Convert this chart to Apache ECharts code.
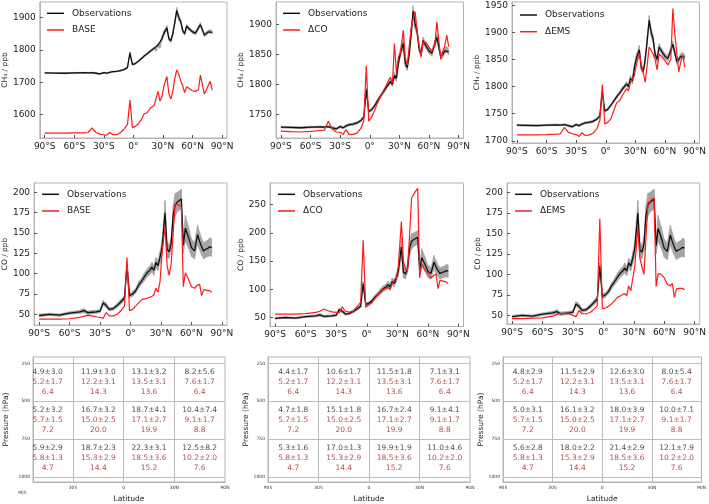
<!DOCTYPE html>
<html><head><meta charset="utf-8">
<script src="https://cdn.jsdelivr.net/npm/echarts@6/dist/echarts.min.js"></script>
<style>html,body{margin:0;padding:0;background:#fff}#c{width:709px;height:504px}</style>
</head><body><div id="c"></div>
<script>
// ---------- data ----------
const lat = [-90,-80,-70,-60,-50,-46,-42,-38,-34,-30,
  -27,-24,-21,-17,-13,-9,-6,-3.5,-1,2,
  5,8,11,14,17,19,21,23,25,27,
  29,31,34,36,38,40,42,44,46,48,
  50,52,54,57,60,63,66,68,70,72,
  74,76,78,80];
const obsCH4 = [1729,1728.5,1728,1729,1729.5,1729,1730,1728,1726,1730,
  1728,1731,1733,1734,1736,1740,1746,1791,1755,1758,
  1765,1773,1781,1788,1796,1800,1805,1800,1815,1810,
  1835,1852,1868,1835,1828,1850,1885,1922,1900,1888,
  1860,1850,1873,1864,1856,1852,1868,1878,1862,1846,
  1850,1856,1858,1854];
const obsCH4Err = [1.5,1.5,1.5,1.5,1.5,1.5,1.5,2,2,2,
  2,2,2,2,2,2,2.5,3,2.5,2.5,
  2.5,3,3,3,3.5,3.5,4,4,5,5,
  6,7,8,6,5,6,7,9,8,7,
  6,5,6,5,5,5,6,6,5,5,
  5,5,5,5];
const baseCH4 = [1543,1543,1543,1544,1544,1545,1559,1545,1540,1538,
  1537,1545,1539,1538,1545,1557,1570,1645,1560,1564,
  1572,1585,1603,1606,1620,1625,1628,1630,1672,1642,
  1656,1690,1718,1665,1648,1672,1712,1738,1725,1705,
  1690,1668,1686,1680,1674,1672,1677,1722,1722,1664,
  1676,1690,1703,1676];
const dcoCH4 = [1722.5,1721.5,1721,1722,1723.5,1724,1739,1726,1721,1720.5,
  1717,1725,1717,1717,1719,1727,1740,1831,1739,1746,
  1757,1770,1780,1790,1799,1807,1812,1802,1868,1819,
  1845,1853,1890,1845,1832,1832,1895,1910,1921,1888,
  1865,1846,1870,1870,1862,1855,1866,1904,1907,1842,
  1855,1864,1882,1863];
const demsCH4 = [1711,1711,1711,1711.5,1712.5,1713,1725,1716,1713,1711.5,
  1708,1715,1710,1710.5,1714,1722,1738,1804,1731,1734,
  1740,1755,1770,1774,1784,1790,1796,1792,1808,1806,
  1820,1840,1861,1840,1826,1808,1840,1873,1870,1860,
  1850,1831,1860,1855,1848,1840,1851,1944,1897,1862,
  1827,1845,1858,1836];
const obsCO = [48.5,50,49,51.5,53,54.5,52,52.5,53,54,
  64,61,56,57,61,66,70,110,73,75,
  79,86,91,97,102,104,108,104,114,110,
  120,132,175,130,127,137,172,185,188,190,
  192,135,156,145,132,128,148,140,133,128,
  130,131,133,132];
const obsCOErr = [1.5,1.5,1.5,1.5,2,2.5,2,2,2,2,
  3,3,2,2,2.5,3,3,4,3,3,
  3,4,4,5,5,5,6,6,6,6,
  7,9,15,10,8,8,12,14,12,12,
  12,10,16,13,11,10,12,11,10,10,
  10,10,11,11];
const baseCO = [44,44,44,44.5,46.3,47.5,49,48,47,46,
  45,52,48,48,50,55,60,120,54.5,56,
  60,64,68,69,70,71,72,74,82,77,
  90,125,158,110,98,112,150,186,185,184,
  183,84,101,93,84,82,86,87,73,80,
  80,79,79,77];
const dcoCO = [56,56,56,57,59,61,65,62,60,59,
  58,69,61,59.5,62,70,77,187,68,72,
  76,84,90,96,100,102,103,100,110,117,
  120,140,220,150,136,132,195,262,268,274,
  279,120,145,135,128,120,125,127,101,116,
  115,114,113,110];
const demsCO = [46,46,46.5,47,49,51,52.5,52,52,50,
  48.5,56,52,52,53.5,58,62,168,58,59,
  61,64,68,72,74,75.5,76.5,74,86,80,
  95,110,157,120,109,100,145,187,189,192,
  193,85,101,100,96,88,86,89,72,82,
  83,83,83,81];

const latTicks = [-90,-60,-30,0,30,60,90];
const latTickLabels = ['90°S','60°S','30°S','0°','30°N','60°N','90°N'];
const ch4TicksA = [1600,1700,1800,1900];
const ch4TicksB = [1750,1800,1850,1900];
const ch4TicksC = [1700,1750,1800,1850,1900,1950];
const coTicksA = [50,75,100,125,150,175,200];
const coTicksB = [50,100,150,200,250];
const coTicksC = [50,75,100,125,150,175,200];

const bandTicks = [0,1,2,3,4];
const bandLabels = ['90S','30S','0','30N','90N'];
const pressTicks = [250,500,750,1000];
const pressBands = [[250,500],[500,750],[750,1000]];

const meanBASE = [[4.9,11.9,13.1,8.2],[5.2,16.7,18.7,10.4],[5.9,18.7,22.3,12.5]];
const sdBASE   = [[3.0,3.0,3.2,5.6],[3.2,3.2,4.1,7.4],[2.9,2.3,3.1,8.2]];
const meanDCO  = [[4.4,10.6,11.5,7.1],[4.7,15.1,16.7,9.1],[5.3,17.0,19.9,11.0]];
const sdDCO    = [[1.7,1.7,1.8,3.1],[1.8,1.8,2.4,4.1],[1.6,1.3,1.9,4.6]];
const meanDEMS = [[4.8,11.5,12.6,8.0],[5.0,16.1,18.0,10.0],[5.6,18.0,21.4,12.1]];
const sdDEMS   = [[2.9,2.9,3.0,5.4],[3.1,3.2,3.9,7.1],[2.8,2.2,2.9,7.9]];
const meanRef  = [[5.2,12.2,13.5,7.6],[5.7,15.0,17.1,9.1],[5.8,15.3,18.5,10.2]];
const sdRef    = [[1.7,3.1,3.1,1.7],[1.5,2.5,2.7,1.7],[1.3,2.9,3.6,2.0]];
const thirdRef = [[6.4,14.3,13.6,6.4],[7.2,20.0,19.9,8.8],[4.7,14.4,15.2,7.6]];

// ---------- layout / style ----------
const FONT = 'DejaVu Sans';
const FRAME = '#b5b5b5';
const RED = '#ff1a1a';
const panels = [
  {g:{left:39,top:2,width:188,height:136}, y:[1528,1948], ticks:ch4TicksA, name:'CH₄ / ppb', gap:27, obs:obsCH4, err:obsCH4Err, model:baseCH4, mname:'BASE', lg:{left:42,top:2.8}},
  {g:{left:276,top:2,width:187.5,height:136}, y:[1711,1937], ticks:ch4TicksB, name:'CH₄ / ppb', gap:26, obs:obsCH4, err:obsCH4Err, model:dcoCH4, mname:'ΔCO', lg:{left:278,top:2.8}},
  {g:{left:512,top:2,width:187.5,height:141}, y:[1696,1956], ticks:ch4TicksC, name:'CH₄ / ppb', gap:27, obs:obsCH4, err:obsCH4Err, model:demsCH4, mname:'ΔEMS', lg:{left:515,top:4.5}},
  {g:{left:33,top:183,width:194,height:142}, y:[36.8,211.6], ticks:coTicksA, name:'CO / ppb', gap:18, obs:obsCO, err:obsCOErr, model:baseCO, mname:'BASE', lg:{left:37,top:183.8}},
  {g:{left:270,top:183,width:193.5,height:143.5}, y:[34,288.5], ticks:coTicksB, name:'CO / ppb', gap:20, obs:obsCO, err:obsCOErr, model:dcoCO, mname:'ΔCO', lg:{left:273,top:183.8}},
  {g:{left:507,top:183,width:193,height:141}, y:[39.5,211.5], ticks:coTicksC, name:'CO / ppb', gap:20, obs:obsCO, err:obsCOErr, model:demsCO, mname:'ΔEMS', lg:{left:510,top:183.8}}
];
// table 1: frame starts a little right of its 90S tick
const tables = [
  {g:{left:33,top:357,width:192,height:130}, xmin:0.21, gap:23, tick0:{left:22.3,width:202}, mean:meanBASE, sd:sdBASE},
  {g:{left:268,top:357,width:202,height:130}, xmin:0, gap:15, mean:meanDCO, sd:sdDCO},
  {g:{left:503,top:357,width:200,height:130}, xmin:0, gap:15, mean:meanDEMS, sd:sdDEMS}
];

const grid=[], xAxis=[], yAxis=[], series=[], legend=[];
panels.forEach((p,i)=>{
  grid.push(Object.assign({show:true, borderColor:FRAME, borderWidth:1, backgroundColor:'#fff'}, p.g));
  xAxis.push({type:'value', gridIndex:i, min:-95, max:95,
    axisLine:{show:true, onZero:false, lineStyle:{color:FRAME}}, splitLine:{show:false},
    axisTick:{show:true, inside:true, length:3, customValues:latTicks, lineStyle:{color:'#555'}},
    axisLabel:{customValues:latTicks, formatter:v=>latTickLabels[latTicks.indexOf(v)], fontFamily:FONT, fontSize:9, color:'#222', margin:4}});
  yAxis.push({type:'value', gridIndex:i, min:p.y[0], max:p.y[1], name:p.name, nameLocation:'middle', nameGap:p.gap,
    nameTextStyle:{fontFamily:FONT, fontSize:7.5, color:'#222'},
    axisLine:{show:true, onZero:false, lineStyle:{color:FRAME}}, splitLine:{show:false},
    axisTick:{show:true, inside:true, length:3, customValues:p.ticks, lineStyle:{color:'#555'}},
    axisLabel:{customValues:p.ticks, formatter:v=>String(v), fontFamily:FONT, fontSize:9, color:'#222', margin:4}});
  series.push({type:'custom', xAxisIndex:i, yAxisIndex:i, silent:true, clip:true, z:1, animation:false,
    data: lat.slice(0,-1).map((x,k)=>[x, p.obs[k]-p.err[k], p.obs[k]+p.err[k], lat[k+1], p.obs[k+1]-p.err[k+1], p.obs[k+1]+p.err[k+1]]),
    encode:{x:[0,3], y:[1,2,4,5]},
    renderItem:(params, api)=>{
      const a=api.coord([api.value(0),api.value(1)]), b=api.coord([api.value(3),api.value(4)]),
            c=api.coord([api.value(3),api.value(5)]), d=api.coord([api.value(0),api.value(2)]);
      return {type:'polygon', shape:{points:[a,b,c,d]}, style:{fill:'#a3a3a3', stroke:'#a3a3a3', lineWidth:0.6}};
    }});
  series.push({type:'line', name:'Observations', xAxisIndex:i, yAxisIndex:i, symbol:'none',
    lineStyle:{color:'#111', width:1.3}, itemStyle:{color:'#111'}, data:lat.map((x,k)=>[x, p.obs[k]]), z:3, animation:false});
  series.push({type:'line', name:p.mname, xAxisIndex:i, yAxisIndex:i, symbol:'none',
    lineStyle:{color:RED, width:1.2}, itemStyle:{color:RED}, data:lat.map((x,k)=>[x, p.model[k]]), z:4, animation:false});
  legend.push({data:['Observations', p.mname], left:p.lg.left, top:p.lg.top, orient:'vertical', icon:'rect', itemWidth:17, itemHeight:1.5, itemGap:5.7,
    textStyle:{fontFamily:FONT, fontSize:9, lineHeight:11, color:'#222', padding:[0,0,0,3]}, selectedMode:false});
});

const fmt = (m,s)=>m.toFixed(1)+'±'+s.toFixed(1);
const extra = [];
tables.forEach((t,j)=>{
  const i = panels.length + j;
  const shown = bandTicks.filter(v=>v>=t.xmin);
  grid.push(Object.assign({show:true, borderColor:FRAME, borderWidth:1}, t.g));
  xAxis.push({type:'value', gridIndex:i, min:t.xmin, max:4, name:'Latitude', nameLocation:'middle', nameGap:13,
    nameTextStyle:{fontFamily:FONT, fontSize:7.5, color:'#222'},
    axisLine:{show:true, onZero:false, lineStyle:{color:FRAME}}, splitLine:{show:false},
    axisTick:{show:false, customValues:shown},
    axisLabel:{customValues:shown, formatter:v=>bandLabels[bandTicks.indexOf(v)], fontFamily:FONT, fontSize:4.5, color:'#333', margin:3}});
  yAxis.push({type:'value', gridIndex:i, min:208, max:1032, inverse:true, name:'Pressure (hPa)', nameLocation:'middle', nameGap:t.gap,
    nameTextStyle:{fontFamily:FONT, fontSize:7.5, color:'#222'},
    axisLine:{show:true, onZero:false, lineStyle:{color:FRAME}}, splitLine:{show:false},
    axisTick:{show:false},
    axisLabel:{customValues:pressTicks, formatter:v=>String(v), fontFamily:FONT, fontSize:4.5, color:'#333', margin:3}});
  const data=[];
  for (let r=0;r<3;r++) for (let c=0;c<4;c++)
    data.push({value:[bandTicks[c]+0.5, (pressBands[r][0]+pressBands[r][1])/2], r, c});
  const lines = pressTicks.map(v=>({yAxis:v})).concat(bandTicks.slice(1,4).map(v=>({xAxis:v})));
  series.push({type:'scatter', xAxisIndex:i, yAxisIndex:i, symbolSize:1, itemStyle:{color:'rgba(0,0,0,0)'}, silent:true, animation:false,
    data,
    label:{show:true, position:'inside', align:'center', verticalAlign:'middle',
      formatter:p=>{const r=p.data.r,c=p.data.c;
        return '{a|'+fmt(t.mean[r][c],t.sd[r][c])+'}\n{b|'+fmt(meanRef[r][c],sdRef[r][c])+'}\n{b|'+thirdRef[r][c].toFixed(1)+'}';},
      rich:{a:{fontFamily:FONT, fontSize:7.5, color:'#222', lineHeight:9.8, align:'center'},
            b:{fontFamily:FONT, fontSize:7.5, color:'#9a1f1f', lineHeight:9.8, align:'center'}}},
    markLine:{silent:true, symbol:'none', animation:false, label:{show:false},
      lineStyle:{color:'#bdbdbd', width:1, type:'solid'}, data:lines}});
  if (t.tick0) extra.push(t);
});
// label-only axis carrying the leftmost latitude tick of table 1
extra.forEach(t=>{
  const i = grid.length;
  grid.push({show:false, left:t.tick0.left, width:t.tick0.width, top:t.g.top, height:t.g.height});
  xAxis.push({type:'value', gridIndex:i, min:0, max:4, axisLine:{show:false}, axisTick:{show:false}, splitLine:{show:false},
    axisLabel:{customValues:bandTicks.filter(v=>v<t.xmin), formatter:v=>bandLabels[bandTicks.indexOf(v)], fontFamily:FONT, fontSize:4.5, color:'#333', margin:3}});
  yAxis.push({type:'value', gridIndex:i, min:0, max:1, show:false});
});

const chart = echarts.init(document.getElementById('c'));
chart.setOption({animation:false, backgroundColor:'#fff', grid, xAxis, yAxis, series, legend});
</script></body></html>
